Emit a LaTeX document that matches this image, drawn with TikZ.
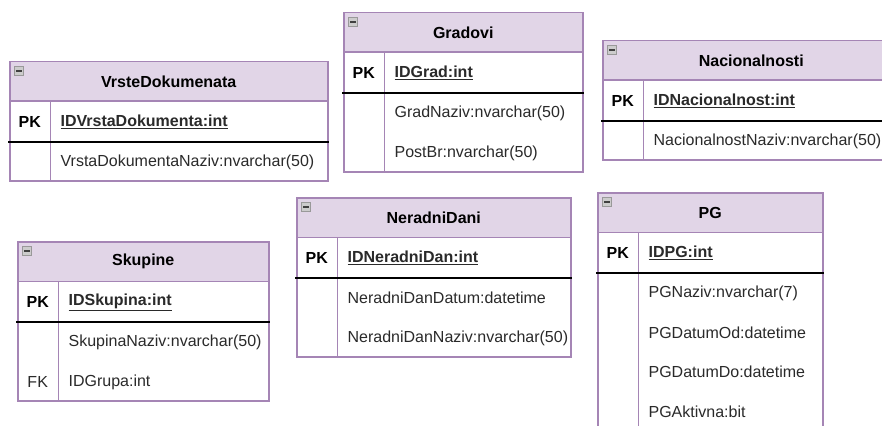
\documentclass[tikz,border=0pt]{standalone}
\usepackage{fontspec}
\setmainfont{Liberation Sans}
\usepackage{xcolor}
\usetikzlibrary{positioning,calc}
\definecolor{hdfill}{HTML}{E1D5E7}
\definecolor{hdline}{HTML}{A585B5}
\definecolor{txt}{HTML}{2A2A2A}

\begin{document}
\fontsize{16}{19}\selectfont
\begin{tikzpicture}[x=1pt, y=-1pt,
    head/.style={draw=hdline, fill=hdfill, line width=1.5pt, minimum height=39.5, anchor=north west, inner sep=0, font=\bfseries, text=black},
    icon/.style={draw=gray!80, fill=gray!40, line width=0.8pt, minimum size=9, inner sep=0, anchor=north west,
        path picture={\draw[black!75, line width=1.6pt] ([xshift=1.8]path picture bounding box.west) -- ([xshift=-1.8]path picture bounding box.east);}},
    tblbody/.style={draw=hdline, fill=white, line width=1.5pt, anchor=north west, inner sep=0},
    keycell/.style={minimum width=41, anchor=north west, inner sep=0, font=\bfseries, text=black},
    divider/.style={draw=hdline, line width=1.5pt},
    pkfield/.style={anchor=west, inner sep=0, font=\bfseries, text=txt},
    field/.style={anchor=west, inner sep=0, text=txt},
    fklabel/.style={anchor=center, inner sep=0, text=txt},
    sep/.style={draw=black, line width=1.3pt}
]
    \useasboundingbox (0,0) rectangle (882,425);
    \clip (0,0) rectangle (882,425);

    % VrsteDokumenata
    \node[tblbody, minimum width=318, minimum height=119] (vdb) at (9,61) {};
    \node[head, minimum width=318] (vd) at (9,61) {VrsteDokumenata};
    \node[icon] (vdi) at ([xshift=5,yshift=-5]vd.north west) {};
    \node[keycell, minimum height=39.5] (vdk) at (vd.south west) {PK};
    \node[keycell, minimum height=40] (vdc) at (vdk.south west) {};
    \draw[divider] (vdk.north east) -- (vdc.south east);
    \node[pkfield] (vdf0) at ([xshift=10]vdk.east) {\underline{IDVrstaDokumenta:int}};
    \node[field] (vdf1) at ([xshift=10,yshift=-20]vdc.north east) {VrstaDokumentaNaziv:nvarchar(50)};
    \draw[sep] ([xshift=-1]vdk.south west) -- (vdk.south west -| vdb.east);

    % Gradovi
    \node[tblbody, minimum width=239, minimum height=159] (grb) at (343,12) {};
    \node[head, minimum width=239] (gr) at (343,12) {Gradovi};
    \node[icon] (gri) at ([xshift=5,yshift=-5]gr.north west) {};
    \node[keycell, minimum height=39.5] (grk) at (gr.south west) {PK};
    \node[keycell, minimum height=80] (grc) at (grk.south west) {};
    \draw[divider] (grk.north east) -- (grc.south east);
    \node[pkfield] (grf0) at ([xshift=10]grk.east) {\underline{IDGrad:int}};
    \node[field] (grf1) at ([xshift=10,yshift=-20]grc.north east) {GradNaziv:nvarchar(50)};
    \node[field] (grf2) at ([yshift=-40]grf1.west) {PostBr:nvarchar(50)};
    \draw[sep] ([xshift=-1]grk.south west) -- (grk.south west -| grb.east);

    % Nacionalnosti
    \node[tblbody, minimum width=297, minimum height=119] (nab) at (602,40) {};
    \node[head, minimum width=297] (na) at (602,40) {Nacionalnosti};
    \node[icon] (nai) at ([xshift=5,yshift=-5]na.north west) {};
    \node[keycell, minimum height=39.5] (nak) at (na.south west) {PK};
    \node[keycell, minimum height=40] (nac) at (nak.south west) {};
    \draw[divider] (nak.north east) -- (nac.south east);
    \node[pkfield] (naf0) at ([xshift=10]nak.east) {\underline{IDNacionalnost:int}};
    \node[field] (naf1) at ([xshift=10,yshift=-20]nac.north east) {NacionalnostNaziv:nvarchar(50)};
    \draw[sep] ([xshift=-1]nak.south west) -- (nak.south west -| nab.east);

    % Skupine
    \node[tblbody, minimum width=251, minimum height=159] (skb) at (17,241) {};
    \node[head, minimum width=251] (sk) at (17,241) {Skupine};
    \node[icon] (ski) at ([xshift=5,yshift=-5]sk.north west) {};
    \node[keycell, minimum height=39.5] (skk) at (sk.south west) {PK};
    \node[keycell, minimum height=80] (skc) at (skk.south west) {};
    \draw[divider] (skk.north east) -- (skc.south east);
    \node[pkfield] (skf0) at ([xshift=10]skk.east) {\underline{IDSkupina:int}};
    \node[field] (skf1) at ([xshift=10,yshift=-20]skc.north east) {SkupinaNaziv:nvarchar(50)};
    \node[field] (skf2) at ([yshift=-40]skf1.west) {IDGrupa:int};
    \node[fklabel] (skfk) at ([yshift=-60]skc.north) {FK};
    \draw[sep] ([xshift=-1]skk.south west) -- (skk.south west -| skb.east);

    % NeradniDani
    \node[tblbody, minimum width=274, minimum height=159] (ndb) at (296,197) {};
    \node[head, minimum width=274] (nd) at (296,197) {NeradniDani};
    \node[icon] (ndi) at ([xshift=5,yshift=-5]nd.north west) {};
    \node[keycell, minimum height=39.5] (ndk) at (nd.south west) {PK};
    \node[keycell, minimum height=80] (ndc) at (ndk.south west) {};
    \draw[divider] (ndk.north east) -- (ndc.south east);
    \node[pkfield] (ndf0) at ([xshift=10]ndk.east) {\underline{IDNeradniDan:int}};
    \node[field] (ndf1) at ([xshift=10,yshift=-20]ndc.north east) {NeradniDanDatum:datetime};
    \node[field] (ndf2) at ([yshift=-40]ndf1.west) {NeradniDanNaziv:nvarchar(50)};
    \draw[sep] ([xshift=-1]ndk.south west) -- (ndk.south west -| ndb.east);

    % PG
    \node[tblbody, minimum width=225, minimum height=239] (pgb) at (597,192) {};
    \node[head, minimum width=225] (pg) at (597,192) {PG};
    \node[icon] (pgi) at ([xshift=5,yshift=-5]pg.north west) {};
    \node[keycell, minimum height=39.5] (pgk) at (pg.south west) {PK};
    \node[keycell, minimum height=160] (pgc) at (pgk.south west) {};
    \draw[divider] (pgk.north east) -- (pgc.south east);
    \node[pkfield] (pgf0) at ([xshift=10]pgk.east) {\underline{IDPG:int}};
    \node[field] (pgf1) at ([xshift=10,yshift=-20]pgc.north east) {PGNaziv:nvarchar(7)};
    \node[field] (pgf2) at ([yshift=-39.5]pgf1.west) {PGDatumOd:datetime};
    \node[field] (pgf3) at ([yshift=-39.5]pgf2.west) {PGDatumDo:datetime};
    \node[field] (pgf4) at ([yshift=-39.5]pgf3.west) {PGAktivna:bit};
    \draw[sep] ([xshift=-1]pgk.south west) -- (pgk.south west -| pgb.east);
\end{tikzpicture}
\end{document}
